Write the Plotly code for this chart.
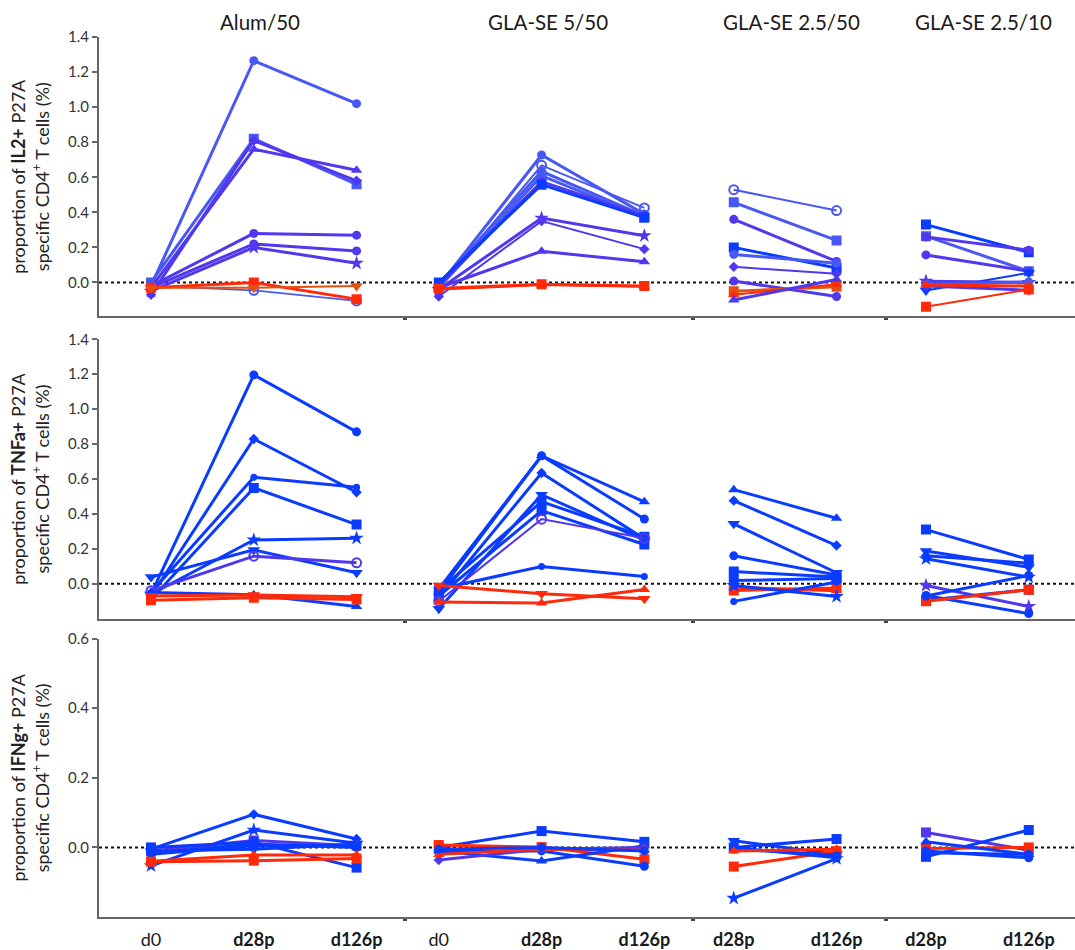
import plotly.graph_objects as go

# ---------------- categories ----------------
GROUPS = ["Alum/50", "GLA-SE 5/50", "GLA-SE 2.5/50", "GLA-SE 2.5/10"]
GROUP_TIMEPOINTS = [["d0", "d28p", "d126p"], ["d0", "d28p", "d126p"],
                    ["d28p", "d126p"], ["d28p", "d126p"]]
CYTOKINES = ["IL2+", "TNFa+", "IFNg+"]

# ---------------- values: IL2+ ----------------
IL2_ALUM = [[-0.02, 1.265, 1.02], [0.0, 0.82, 0.56], [-0.07, 0.81, 0.58],
            [-0.03, 0.76, 0.64], [-0.02, 0.28, 0.27], [-0.03, 0.22, 0.18],
            [-0.05, 0.20, 0.11], [-0.02, -0.045, -0.105], [-0.03, 0.0, -0.095],
            [-0.03, -0.03, -0.02]]
IL2_G5 = [[-0.02, 0.727, 0.39], [-0.03, 0.668, 0.425], [-0.01, 0.634, 0.38],
          [-0.03, 0.609, 0.37], [-0.02, 0.575, 0.38], [0.0, 0.558, 0.37],
          [-0.04, 0.367, 0.267], [-0.08, 0.35, 0.19], [-0.03, 0.178, 0.118],
          [-0.035, -0.01, -0.02], [-0.04, -0.015, -0.025]]
IL2_G25_50 = [[0.529, 0.41], [0.457, 0.24], [0.36, 0.12], [0.2, 0.083],
              [0.16, 0.11], [0.089, 0.05], [0.008, -0.08], [-0.05, -0.025],
              [-0.07, -0.01], [-0.10, 0.017]]
IL2_G25_10 = [[0.33, 0.172], [0.264, 0.064], [0.26, 0.184], [0.157, 0.064],
              [-0.046, 0.055], [0.007, 0.0], [-0.01, 0.003], [-0.02, -0.044],
              [-0.138, -0.04], [-0.015, -0.02]]

# ---------------- values: TNFa+ ----------------
TNF_ALUM = [[-0.06, 1.196, 0.87], [-0.07, 0.829, 0.524], [-0.05, 0.61, 0.553],
            [-0.09, 0.549, 0.339], [-0.06, 0.251, 0.261], [0.038, 0.194, 0.063],
            [-0.04, 0.158, 0.12], [-0.05, -0.063, -0.13], [-0.095, -0.08, -0.09],
            [-0.07, -0.065, -0.075]]
TNF_G5 = [[-0.05, 0.733, 0.469], [-0.03, 0.733, 0.371], [-0.08, 0.634, 0.257],
          [-0.143, 0.51, 0.25], [-0.04, 0.47, 0.269], [-0.07, 0.419, 0.225],
          [-0.10, 0.37, 0.26], [-0.03, 0.099, 0.042], [-0.01, -0.057, -0.086],
          [-0.105, -0.11, -0.033]]
TNF_G25_50 = [[0.539, 0.375], [0.476, 0.219], [0.343, 0.063], [0.16, 0.05],
              [0.07, 0.038], [0.019, 0.03], [-0.038, -0.025], [-0.02, -0.04],
              [-0.01, -0.073], [-0.101, 0.01]]
TNF_G25_10 = [[0.31, 0.139], [0.187, 0.095], [0.143, 0.038], [0.16, 0.118],
              [-0.01, -0.13], [-0.067, -0.171], [-0.095, -0.034], [-0.10, -0.035],
              [-0.07, 0.047]]

# ---------------- values: IFNg+ ----------------
IFN_ALUM = [[-0.005, 0.095, 0.024], [-0.053, 0.05, 0.012], [-0.01, 0.02, 0.005],
            [0.0, 0.015, -0.058], [-0.017, 0.01, 0.0], [-0.01, -0.005, 0.01],
            [-0.02, 0.005, 0.005], [-0.041, -0.038, -0.032], [-0.04, -0.022, -0.022]]
IFN_G5 = [[0.0, 0.047, 0.016], [0.007, 0.001, -0.034], [-0.01, -0.039, 0.005],
          [-0.012, -0.01, -0.054], [-0.036, -0.005, 0.0], [-0.02, -0.005, -0.008],
          [-0.005, 0.0, -0.01]]
IFN_G25_50 = [[0.0, 0.024], [0.019, -0.02], [-0.055, -0.011], [-0.146, -0.032],
              [-0.005, -0.022], [0.0, -0.03], [-0.01, -0.005]]
IFN_G25_10 = [[0.043, -0.008], [-0.027, 0.05], [-0.003, 0.0], [0.016, -0.02],
              [-0.01, -0.03], [-0.015, -0.02]]

# ---------------- styles (symbol, colour key, line width) ----------------
IL2_ALUM_S = [("circle", "L", 3), ("square", "L", 3), ("diamond", "P", 3),
              ("triangle-up", "P", 3), ("circle", "P", 3), ("circle", "P", 3),
              ("star", "P", 3), ("circle-open", "L", 1.6), ("square", "R", 3),
              ("triangle-down", "O", 2)]
IL2_G5_S = [("circle", "L", 3), ("circle-open", "L", 2), ("circle", "L", 3),
            ("square", "L", 3), ("circle", "P", 3), ("square", "B", 3),
            ("star", "P", 3), ("diamond", "P", 2), ("triangle-up", "P", 3),
            ("square", "R", 3), ("triangle-up", "R", 2)]
IL2_G25_50_S = [("circle-open", "L", 2), ("square", "L", 3), ("circle", "P", 3),
                ("square", "B", 3), ("circle", "L", 3), ("diamond", "P", 2),
                ("circle", "P", 3), ("square", "O", 3), ("triangle-up", "R", 2),
                ("triangle-up", "P", 3)]
IL2_G25_10_S = [("square", "B", 3), ("square", "L", 3), ("circle", "P", 3),
                ("circle", "P", 3), ("triangle-down", "B", 2), ("star", "P", 3),
                ("circle", "L", 3), ("diamond", "P", 3), ("square", "R", 2),
                ("triangle-up", "R", 3)]

TNF_ALUM_S = [("circle", "B", 3), ("diamond", "B", 3), ("circle-s", "B", 3),
              ("square", "B", 3), ("star", "B", 3), ("triangle-down", "B", 3),
              ("circle-open", "P", 3), ("triangle-up", "B", 3), ("square", "R", 3),
              ("triangle-down", "R", 3)]
TNF_G5_S = [("triangle-up", "B", 3), ("circle", "B", 3), ("diamond", "B", 3),
            ("triangle-down", "B", 3), ("square", "B", 3), ("square", "B", 3),
            ("circle-open", "P", 2), ("circle-s", "B", 3), ("triangle-down", "R", 3),
            ("triangle-up", "R", 3)]
TNF_G25_50_S = [("triangle-up", "B", 3), ("diamond", "B", 3), ("triangle-down", "B", 3),
                ("circle", "B", 3), ("square", "B", 3), ("square", "B", 3),
                ("square", "R", 3), ("triangle-up", "R", 3), ("star", "B", 3),
                ("circle-s", "B", 3)]
TNF_G25_10_S = [("square", "B", 3), ("triangle-down", "B", 3), ("star", "B", 3),
                ("diamond", "B", 3), ("star", "P", 3), ("circle", "B", 3),
                ("square", "B", 3), ("square", "R", 3), ("circle", "B", 3)]

IFN_ALUM_S = [("diamond", "B", 3), ("star", "B", 3), ("square", "P", 3),
              ("square", "B", 3), ("circle", "B", 3), ("triangle-down", "B", 3),
              ("circle", "B", 3), ("square", "R", 3), ("triangle-up", "R", 3)]
IFN_G5_S = [("square", "B", 3), ("square", "R", 3), ("triangle-up", "B", 3),
            ("circle", "B", 3), ("diamond", "P", 3), ("triangle-up", "R", 3),
            ("circle", "B", 3)]
IFN_G25_50_S = [("square", "B", 3), ("triangle-down", "B", 3), ("square", "R", 3),
                ("star", "B", 3), ("circle", "B", 3), ("circle", "B", 3),
                ("triangle-up", "R", 3)]
IFN_G25_10_S = [("square", "P", 3), ("square", "B", 3), ("square", "R", 3),
                ("triangle-up", "B", 3), ("circle", "B", 3), ("circle", "B", 3)]

PANELS = [
    [(IL2_ALUM, IL2_ALUM_S), (IL2_G5, IL2_G5_S), (IL2_G25_50, IL2_G25_50_S), (IL2_G25_10, IL2_G25_10_S)],
    [(TNF_ALUM, TNF_ALUM_S), (TNF_G5, TNF_G5_S), (TNF_G25_50, TNF_G25_50_S), (TNF_G25_10, TNF_G25_10_S)],
    [(IFN_ALUM, IFN_ALUM_S), (IFN_G5, IFN_G5_S), (IFN_G25_50, IFN_G25_50_S), (IFN_G25_10, IFN_G25_10_S)],
]

COLORS = {"B": "#0a3cff", "L": "#4858f4", "P": "#4f38ee", "R": "#ff2a0a", "O": "#e2520e"}
SIZES = {"circle": 9, "circle-s": 7, "square": 10, "diamond": 8, "triangle-up": 10,
         "triangle-down": 11, "star": 11, "circle-open": 9}

# ---------------- layout geometry ----------------
GROUP_START = [0.0, 2.8, 5.67, 7.54]
GROUP_BREAKS = [2.47, 5.27, 7.15]
X_RANGE = [-0.506, 8.99]
Y_RANGES = [[-0.1935, 1.4], [-0.2, 1.4], [-0.2, 0.6]]
Y_TICKS = [[0, 0.2, 0.4, 0.6, 0.8, 1.0, 1.2, 1.4], [0, 0.2, 0.4, 0.6, 0.8, 1.0, 1.2, 1.4],
           [0, 0.2, 0.4, 0.6]]
Y_DOMAINS = [[0.6825, 1.0], [0.339, 0.6565], [0.0, 0.3163]]

FONT = "Lato, 'Open Sans', sans-serif"
AXIS_COLOR = "#666666"

fig = go.Figure()

for p, panel in enumerate(PANELS):
    ax = "" if p == 0 else str(p + 1)
    for g, (vals, styles) in enumerate(panel):
        xs = [GROUP_START[g] + k for k in range(len(GROUP_TIMEPOINTS[g]))]
        for v, (sym, ck, w) in zip(vals, styles):
            col = COLORS[ck]
            psym = "circle" if sym == "circle-s" else sym
            marker = dict(symbol=psym, size=SIZES[sym], color=col)
            if sym == "circle-open":
                marker["line"] = dict(width=2, color=col)
            fig.add_trace(go.Scatter(
                x=xs, y=v, mode="lines+markers",
                line=dict(color=col, width=w), marker=marker,
                xaxis="x" + ax, yaxis="y" + ax, showlegend=False,
                hoverinfo="x+y"))

# tick positions / labels
tickvals, ticktext = [], []
for g, tps in enumerate(GROUP_TIMEPOINTS):
    for k, t in enumerate(tps):
        tickvals.append(GROUP_START[g] + k)
        ticktext.append(t if t == "d0" else "<b>%s</b>" % t)

layout = dict(
    width=1075, height=950,
    margin=dict(l=99, r=0, t=37, b=31),
    plot_bgcolor="white", paper_bgcolor="white",
    font=dict(family=FONT, color="#222222"),
    showlegend=False,
    shapes=[], annotations=[],
)

for p in range(3):
    ax = "" if p == 0 else str(p + 1)
    last = p == 2
    layout["xaxis" + ax] = dict(
        domain=[0, 1], range=X_RANGE, anchor="y" + ax,
        showline=True, linecolor=AXIS_COLOR, linewidth=2,
        showgrid=False, zeroline=False,
        tickmode="array", tickvals=tickvals, ticktext=ticktext,
        showticklabels=last, ticks="outside" if last else "",
        ticklen=5, tickcolor="rgba(0,0,0,0)",
        tickfont=dict(size=18, color="#1a1a1a", family=FONT),
        minor=dict(tickmode="array", tickvals=GROUP_BREAKS, ticks="outside",
                   ticklen=2, tickwidth=4, tickcolor="#444444"),
    )
    layout["yaxis" + ax] = dict(
        domain=Y_DOMAINS[p], range=Y_RANGES[p], anchor="x" + ax,
        showline=True, linecolor=AXIS_COLOR, linewidth=2,
        showgrid=False, zeroline=False,
        tickmode="array", tickvals=Y_TICKS[p],
        ticktext=["%.1f" % t for t in Y_TICKS[p]],
        ticks="outside", ticklen=5, tickwidth=1.5, tickcolor=AXIS_COLOR,
        tickfont=dict(size=15, color="#333333", family=FONT),
        title=dict(text="proportion of <b>%s</b> P27A<br>specific CD4<sup>+</sup> T cells (%%)" % CYTOKINES[p],
                   font=dict(size=18, color="#222222", family=FONT), standoff=14),
    )
    layout["shapes"].append(dict(
        type="line", xref="x%s domain" % ax, yref="y" + ax,
        x0=0, x1=1, y0=0, y1=0, layer="below",
        line=dict(color="#111111", width=2, dash="dot")))

for g, name in enumerate(GROUPS):
    center = GROUP_START[g] + (len(GROUP_TIMEPOINTS[g]) - 1) / 2.0 + 0.06
    layout["annotations"].append(dict(
        text=name, x=center, xref="x", y=1.017, yref="paper",
        showarrow=False, xanchor="center", yanchor="middle",
        font=dict(size=20.5, color="#1a1a1a", family=FONT)))

fig.update_layout(**layout)
fig.write_html("out.html")
